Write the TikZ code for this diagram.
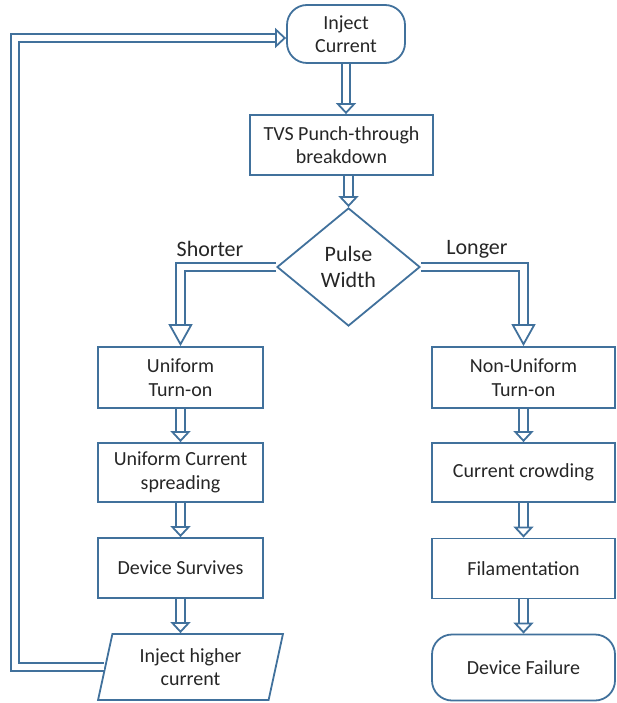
\documentclass[tikz,border=0pt]{standalone}
\usepackage{fontspec}
\setmainfont{Carlito}
\usetikzlibrary{positioning,shapes.geometric,arrows.meta}

\definecolor{boxblue}{RGB}{65,113,156}

\tikzset{
    box/.style={draw=boxblue, line width=1.8pt, rectangle, align=center, inner sep=0pt,
        text=black!85, font=\fontsize{20}{23.5}\selectfont},
    termbox/.style={box, rounded corners=20pt},
    decision/.style={box, diamond, minimum width=143pt, minimum height=118pt,
        font=\fontsize{22}{26}\selectfont},
    inout/.style={box, trapezium, trapezium left angle=76, trapezium right angle=104,
        trapezium stretches=true, minimum width=185pt, minimum height=66pt},
    choice/.style={text=black!85, font=\fontsize{22}{26}\selectfont},
    flow/.style={draw=boxblue, double=white, double distance=6.5pt, line width=1.8pt, line join=miter,
        -{Triangle[open, width=20pt, length=11pt, line width=1.8pt, fill=white]}},
    branch/.style={flow, -{Triangle[open, width=24pt, length=22pt, line width=1.8pt, fill=white]}},
}

\begin{document}
\begin{tikzpicture}[x=1pt, y=-1pt]
    \useasboundingbox (0,0) rectangle (616,703);

    % main chain
    \node[termbox, minimum width=118pt, minimum height=58pt] (inj) at (346,34) {Inject\\Current};
    \node[box, minimum width=183pt, minimum height=60pt] (tvs) at (341.5,145) {TVS Punch-through\\breakdown};
    \node[decision] (dia) at (348.5,267) {Pulse\\Width};

    % shorter pulses
    \node[box, minimum width=165pt, minimum height=61pt] (uni) at (180.5,377.5) {Uniform\\Turn-on};
    \node[box, minimum width=165pt, minimum height=59pt] (spread) at (180.5,472.5) {Uniform Current\\spreading};
    \node[box, minimum width=165pt, minimum height=60pt] (surv) at (180.5,568) {Device Survives};
    \node[inout] (higher) at (190.5,667) {Inject higher\\current};

    % longer pulses
    \node[box, minimum width=183pt, minimum height=61pt] (non) at (523.5,377.5) {Non-Uniform\\Turn-on};
    \node[box, minimum width=183pt, minimum height=59pt] (crowd) at (523.5,472.5) {Current crowding};
    \node[box, minimum width=183pt, minimum height=60pt] (fila) at (523.5,568.5) {Filamentation};
    \node[termbox, minimum width=183pt, minimum height=66pt] (fail) at (523.5,667.5) {Device Failure};

    \node[choice] (short) at (210,249) {Shorter};
    \node[choice] (long) at (477,249) {Longer};

    \coordinate (back) at (15,400);

    \draw[flow] (inj) -- (inj |- tvs.north);
    \draw[flow] (dia.north |- tvs.south) -- (dia.north);
    \draw[branch] (dia.west) -| (uni.north);
    \draw[branch] (dia.east) -| (non.north);
    \draw[flow] (uni) -- (spread);
    \draw[flow] (spread) -- (surv);
    \draw[flow] (surv) -- (surv.south |- higher.north);
    \draw[flow] (non) -- (crowd);
    \draw[flow] (crowd) -- (fila);
    \draw[flow] (fila) -- (fail);
    \draw[flow] (higher.west) -| (back) |- ([yshift=-4pt]inj.west);
\end{tikzpicture}
\end{document}
